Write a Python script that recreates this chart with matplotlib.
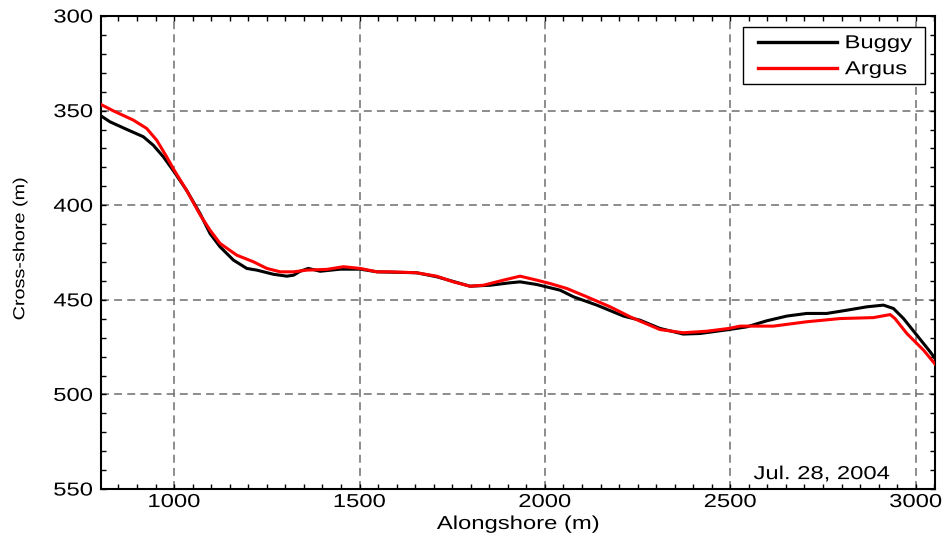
import matplotlib
matplotlib.use("Agg")
import matplotlib.pyplot as plt
from matplotlib.ticker import MultipleLocator
from matplotlib.patheffects import AbstractPathEffect
from matplotlib.transforms import Affine2D
from matplotlib.lines import Line2D
from matplotlib.patches import Rectangle

plt.rcParams['font.family'] = ['Liberation Sans', 'DejaVu Sans']

# Shoreline position from the buggy survey
buggy_x = [800, 827, 872, 917, 944, 971, 1000, 1034, 1070, 1097, 1124, 1160, 1196,
           1223, 1268, 1304, 1322, 1340, 1362, 1394, 1448, 1502, 1547, 1654, 1708,
           1798, 1852, 1906, 1933, 1978, 2041, 2077, 2140, 2212, 2257, 2310, 2373,
           2418, 2497, 2544, 2598, 2652, 2706, 2760, 2814, 2868, 2913, 2940, 2967,
           3003, 3039, 3052]
buggy_y = [352.4, 355.9, 359.9, 363.8, 368.3, 374.4, 382.3, 392.2, 404.4, 415, 422,
           429, 433.4, 434.3, 436.5, 437.5, 437, 434.9, 433.4, 434.9, 433.8, 433.8,
           435.2, 435.7, 437.8, 442.8, 442.3, 441, 440.5, 441.9, 444.9, 448.4,
           452.8, 458.6, 460.8, 465.1, 468.1, 467.8, 465.7, 464.3, 461.1, 458.6,
           457.2, 457.2, 455.5, 453.7, 452.8, 454.6, 459.9, 468.7, 477.5, 481]

# Shoreline position from the Argus images
argus_x = [800, 836, 890, 926, 953, 980, 1000, 1034, 1070, 1097, 1124, 1169, 1214,
           1250, 1286, 1322, 1358, 1412, 1457, 1502, 1547, 1583, 1654, 1708, 1753,
           1798, 1834, 1888, 1933, 1978, 2014, 2059, 2113, 2176, 2230, 2257, 2310,
           2373, 2436, 2497, 2526, 2616, 2706, 2796, 2886, 2931, 2944, 2976, 3021,
           3057]
argus_y = [346.5, 350.1, 355, 359.4, 365.6, 374.4, 381.4, 392.2, 405, 413.2, 420.2,
           426.4, 429.9, 433.4, 435.2, 435.2, 434.3, 433.9, 432.5, 433.4, 435.2,
           435.2, 435.7, 437.5, 440.5, 442.8, 442.3, 439.6, 437.5, 439.6, 441.4,
           444, 448.4, 453.7, 459, 461.3, 465.7, 467.4, 466.6, 465.1, 463.9, 463.9,
           461.6, 459.9, 459.4, 457.8, 459.9, 467.8, 476.6, 485.1]

series_labels = ['Buggy', 'Argus']
series_colors = ['black', 'red']
x_ticks = [1000, 1500, 2000, 2500, 3000]
y_ticks = [300, 350, 400, 450, 500, 550]
date_label = 'Jul. 28, 2004'


class WideText(AbstractPathEffect):
    """Draw text glyphs stretched horizontally about an anchor point."""

    def __init__(self, sx=1.27, anchor=0.5):
        super().__init__()
        self._sx = sx
        self._anchor = anchor

    def draw_path(self, renderer, gc, tpath, affine, rgbFace=None):
        ext = tpath.get_extents()
        px = ext.x0 + self._anchor * ext.width
        pre = Affine2D().translate(-px, 0).scale(self._sx, 1).translate(px, 0)
        renderer.draw_path(gc, tpath, pre + affine, rgbFace)


FS = 13.5

fig = plt.figure(figsize=(9.46, 5.43), dpi=100)
ax = fig.add_axes([0.1068, 0.0994, 0.8816, 0.8711])

ax.plot(buggy_x, buggy_y, color=series_colors[0], lw=2.2, zorder=3)
ax.plot(argus_x, argus_y, color=series_colors[1], lw=2.2, zorder=4)

ax.set_xlim(803, 3052)
ax.set_ylim(550, 300)
ax.set_xticks(x_ticks)
ax.set_yticks(y_ticks)
ax.xaxis.set_minor_locator(MultipleLocator(50))
ax.yaxis.set_minor_locator(MultipleLocator(10))
ax.tick_params(which='both', direction='in', top=True, right=True,
               length=3.6, width=1, labelsize=FS)
ax.tick_params(axis='x', pad=3.6)
ax.tick_params(axis='y', pad=5.8)

ax.grid(True, which='major', color='#6e6e6e', linestyle=(0, (5.2, 3.4)), lw=1.1)
for s in ax.spines.values():
    s.set_linewidth(1.5)

for t in ax.get_xticklabels():
    t.set_path_effects([WideText(1.27, 0.5)])
for t in ax.get_yticklabels():
    t.set_path_effects([WideText(1.27, 1.0)])

ax.set_xlabel('Alongshore (m)', fontsize=FS)
ax.xaxis.label.set_path_effects([WideText(1.27, 0.5)])
ax.xaxis.set_label_coords(0.5, -0.057)

ax.set_ylabel('Cross-shore (m)', fontsize=11.5)
ax.yaxis.label.set_path_effects([WideText(1.24, 0.5)])
ax.yaxis.set_label_coords(-0.0885, 0.508)

ax.text(0.946, 0.021, date_label, transform=ax.transAxes, ha='right',
        va='baseline', fontsize=FS, path_effects=[WideText(1.27, 1.0)])

# Legend box, drawn by hand so the widened text fits inside the frame
ax.add_patch(Rectangle((0.770, 0.856), 0.218, 0.121, transform=ax.transAxes,
                       facecolor='white', edgecolor='black', lw=1.0, zorder=6))
for i, (lab, col) in enumerate(zip(series_labels, series_colors)):
    y_line = [0.945, 0.890][i]
    y_text = [0.932, 0.877][i]
    ax.add_line(Line2D([0.788, 0.8825], [y_line, y_line], transform=ax.transAxes,
                       color=col, lw=2.4, zorder=7))
    ax.text(0.892, y_text, lab, transform=ax.transAxes, ha='left', va='baseline',
            fontsize=FS, zorder=7, path_effects=[WideText(1.27, 0.0)])

fig.savefig('out.png', dpi=100)
